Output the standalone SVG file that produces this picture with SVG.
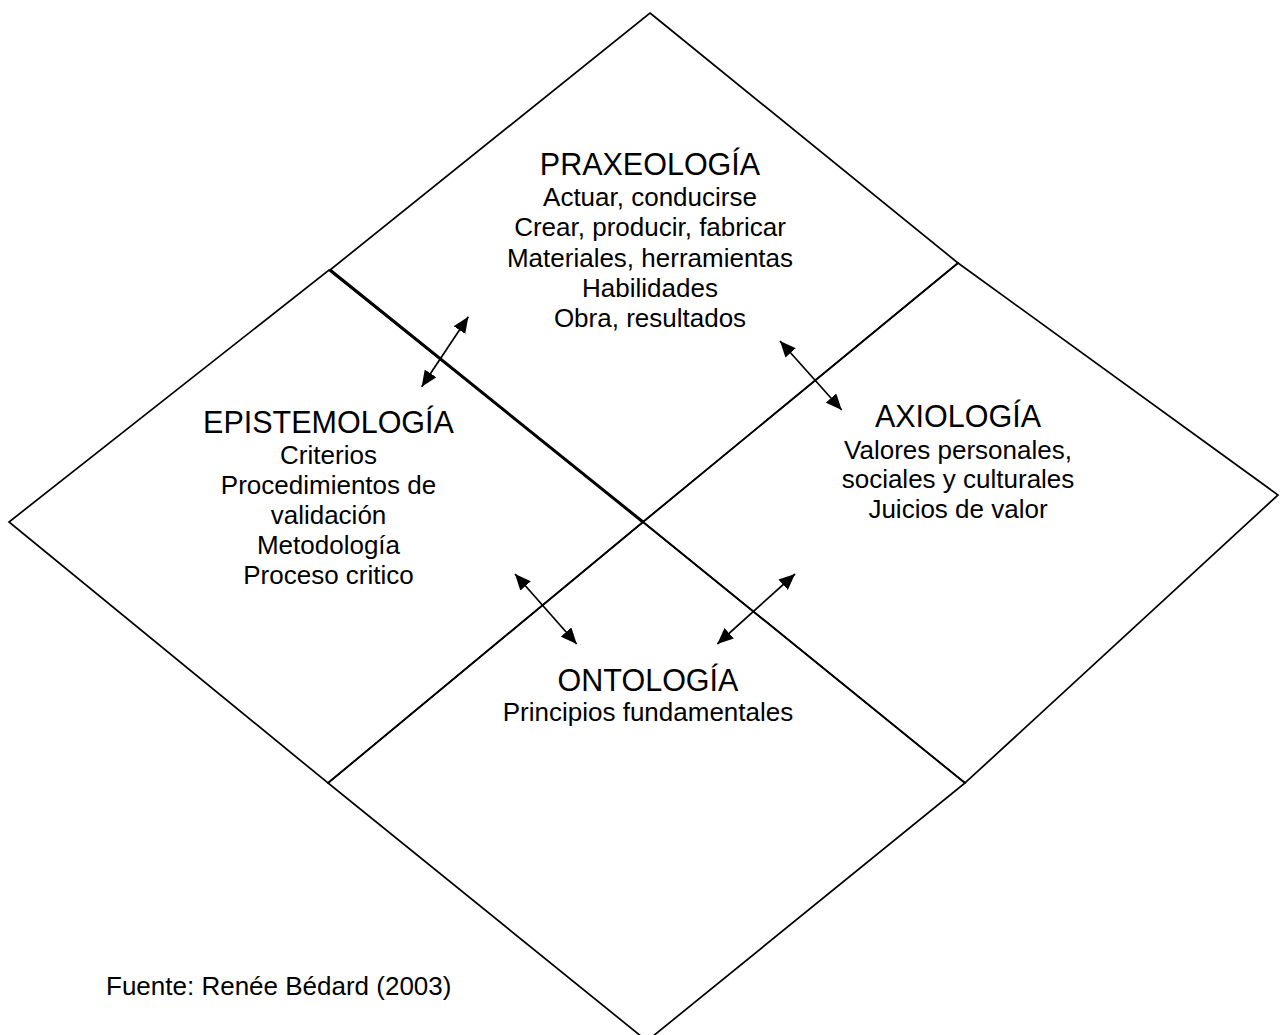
<svg xmlns="http://www.w3.org/2000/svg" width="1282" height="1035" viewBox="0 0 1282 1035">
<style>
.sq{fill:none;stroke:#000;stroke-width:1.7;stroke-linejoin:miter}
.t{font-family:"Liberation Sans",Arial,sans-serif;font-size:30.5px;fill:#000;text-anchor:middle}
.b{font-family:"Liberation Sans",Arial,sans-serif;font-size:26px;fill:#000;text-anchor:middle}
.c{stroke:#000;stroke-width:1.7;fill:none}
</style>
<defs>
<marker id="ah" viewBox="0 0 16 14" refX="16" refY="7" markerWidth="16" markerHeight="14" markerUnits="userSpaceOnUse" orient="auto-start-reverse">
<path d="M0,0 L16,7 L0,14 z" fill="#000"/>
</marker>
</defs>
<rect width="1282" height="1035" fill="#fff"/>
<g id="praxeologia">
<polygon class="sq" points="650,13 958,263 643,522 330,270"/>
<line x1="330" y1="270" x2="643" y2="522" stroke="#000" stroke-width="3"/>
<text class="t" x="650" y="175">PRAXEOLOGÍA</text>
<text class="b" x="650" y="206">Actuar, conducirse</text>
<text class="b" x="650" y="236">Crear, producir, fabricar</text>
<text class="b" x="650" y="266.5">Materiales, herramientas</text>
<text class="b" x="650" y="296.5">Habilidades</text>
<text class="b" x="650" y="326.5">Obra, resultados</text>
</g>
<g id="epistemologia">
<polygon class="sq" points="329,270 643,522 328,783 9,522"/>
<text class="t" x="328.5" y="433">EPISTEMOLOGÍA</text>
<text class="b" x="328.5" y="463.5">Criterios</text>
<text class="b" x="328.5" y="493.5">Procedimientos de</text>
<text class="b" x="328.5" y="523.5">validación</text>
<text class="b" x="328.5" y="553.5">Metodología</text>
<text class="b" x="328.5" y="583.5">Proceso critico</text>
</g>
<g id="axiologia">
<polygon class="sq" points="958,263 1278,495 965,783 643,522"/>
<text class="t" x="958" y="427">AXIOLOGÍA</text>
<text class="b" x="958" y="458.5">Valores personales,</text>
<text class="b" x="958" y="488">sociales y culturales</text>
<text class="b" x="958" y="517.5">Juicios de valor</text>
</g>
<g id="ontologia">
<polygon class="sq" points="643,522 965,783 647,1041 328,783"/>
<text class="t" x="648" y="691">ONTOLOGÍA</text>
<text class="b" x="648" y="721">Principios fundamentales</text>
</g>
<g id="fuente">
<text class="b" x="106" y="995" style="text-anchor:start">Fuente: Renée Bédard (2003)</text>
</g>
<g id="connectors">
<line class="c" x1="421.7" y1="386.7" x2="468.3" y2="316.7" marker-start="url(#ah)" marker-end="url(#ah)"/>
<line class="c" x1="780" y1="341" x2="841.7" y2="410" marker-start="url(#ah)" marker-end="url(#ah)"/>
<line class="c" x1="515" y1="574" x2="576.7" y2="644" marker-start="url(#ah)" marker-end="url(#ah)"/>
<line class="c" x1="795" y1="574" x2="717.3" y2="644" marker-start="url(#ah)" marker-end="url(#ah)"/>
</g>
</svg>
